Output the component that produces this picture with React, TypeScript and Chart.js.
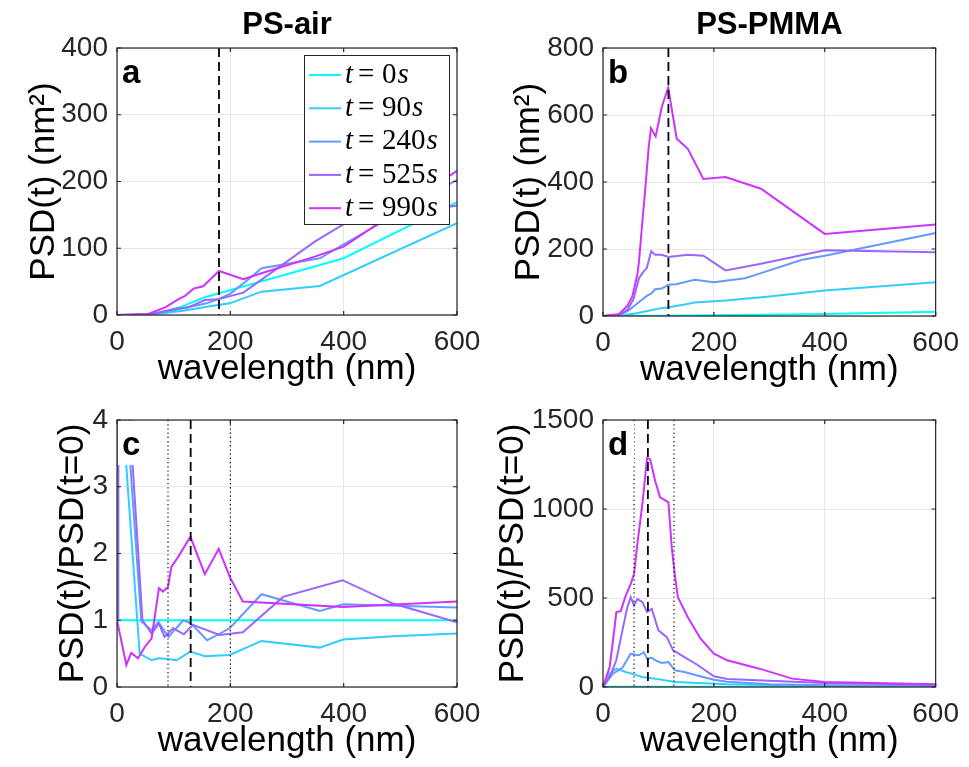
import React, { useEffect, useRef } from "react";
import { Chart, registerables } from "chart.js";

Chart.register(...registerables);

type Pt = [number, number];

// ---------- shared labels ----------
const seriesTimes = ["0", "90", "240", "525", "990"];
const seriesColors = ["#00FFFF", "#33CCFF", "#6699FF", "#9966FF", "#CC33FF"];

// ---------- panel a: PS-air, PSD(t) ----------
const airT0: Pt[] = [[0, 0], [30, 0.2], [67, 1.5], [114, 12.5], [155, 26.5], [358, 75], [400, 85], [600, 169]];
const airT90: Pt[] = [[0, 0], [60, 0.5], [117, 6.5], [158, 12.5], [199, 17.5], [255, 35], [358, 43.5], [600, 137.5]];
const airT240: Pt[] = [[0, 0], [60, 1], [100, 7], [158, 17.5], [182, 25], [200, 32], [230, 52], [255, 70], [358, 85], [400, 106], [600, 202.5]];
const airT525: Pt[] = [[0, 0], [55, 0.5], [102, 9], [126, 11.5], [155, 22.5], [179, 23.5], [196, 27.5], [223, 33.5], [349, 110], [400, 136], [600, 164]];
const airT990: Pt[] = [[0, 0], [55, 1.5], [85, 11.5], [108, 23.5], [120, 28.5], [135, 39.5], [152, 43], [180, 66], [223, 53.5], [255, 62.5], [349, 87.5], [400, 102.5], [600, 216]];

// ---------- panel b: PS-PMMA, PSD(t) ----------
const pmmaT0: Pt[] = [[0, 0], [100, 0.5], [200, 2], [400, 6], [600, 13]];
const pmmaT90: Pt[] = [[0, 0], [20, 0.5], [40, 3], [60, 8], [80, 15], [100, 22], [118, 26], [150, 35], [165, 40], [221, 46], [300, 58], [400, 76], [600, 101]];
const pmmaT240: Pt[] = [[0, 0], [30, 3], [45, 15], [60, 35], [79, 60], [88, 68], [94, 80], [106, 82], [118, 93], [132, 95], [165, 108], [200, 101], [256, 113], [285, 128], [359, 168], [400, 180], [600, 248]];
const pmmaT525: Pt[] = [[0, 0], [30, 3], [45, 20], [55, 50], [65, 113], [72, 130], [79, 143], [87, 193], [94, 183], [106, 183], [118, 176], [153, 183], [181, 180], [221, 136], [285, 156], [400, 196], [600, 190]];
const pmmaT990: Pt[] = [[0, 0], [29, 6], [44, 30], [53, 59], [62, 124], [65, 164], [70.6, 274], [76.5, 384], [82.4, 504], [86.5, 561], [95, 536], [106, 624], [117.6, 682], [133, 529], [153, 499], [181, 409], [221, 415], [285, 380], [400, 245], [600, 273]];

// ---------- panel c: PS-air, PSD(t)/PSD(t=0) ----------
const airRatioT0: Pt[] = [[0, 1], [600, 1]];
const airRatioT90: Pt[] = [[2, 1], [4, 80], [14, 3.6], [40, 0.5], [61, 0.4], [74, 0.43], [90, 0.42], [105, 0.4], [129.5, 0.53], [155, 0.46], [199, 0.48], [255, 0.69], [358, 0.59], [399, 0.71], [487, 0.76], [600, 0.8]];
const airRatioT240: Pt[] = [[2, 1], [4, 80], [22, 3.5], [43, 0.98], [61, 0.85], [73, 0.97], [91, 0.75], [117, 1.0], [131, 0.95], [159, 0.7], [199, 0.88], [255, 1.39], [358, 1.14], [399, 1.24], [600, 1.19]];
const airRatioT525: Pt[] = [[2, 1], [5, 80], [27, 3.4], [45, 1.0], [61, 0.8], [74, 0.95], [84, 0.75], [99, 0.88], [118, 0.79], [134, 0.93], [181, 0.78], [222, 0.82], [293, 1.35], [398, 1.6], [487, 1.25], [600, 0.97]];
const airRatioT990: Pt[] = [[0, 1], [16.5, 0.33], [25, 0.51], [37, 0.43], [49, 0.6], [61, 0.73], [74, 1.48], [81, 1.43], [90, 1.5], [96, 1.8], [108, 1.95], [129.5, 2.25], [155, 1.69], [179.5, 2.07], [199, 1.65], [222, 1.28], [399, 1.2], [600, 1.28]];

// ---------- panel d: PS-PMMA, PSD(t)/PSD(t=0) ----------
const pmmaRatioT0: Pt[] = [[0, 1], [600, 1]];
const pmmaRatioT90: Pt[] = [[0, 1], [12, 75], [24, 103], [41, 84], [56, 71], [71, 56], [94, 47], [130, 28], [170, 22], [224, 15], [400, 6], [600, 4]];
const pmmaRatioT240: Pt[] = [[0, 1], [18, 75], [35, 108], [50, 187], [59, 181], [65, 178], [73.5, 196], [79.5, 159], [88, 164], [97, 146], [106, 135], [118, 140], [130, 93], [147, 84], [170, 65], [200, 41], [224, 30], [300, 15], [400, 10], [600, 7]];
const pmmaRatioT525: Pt[] = [[0, 1], [12, 56], [24, 150], [35, 318], [44, 449], [50, 505], [56, 458], [62, 495], [71, 477], [79.5, 421], [88, 439], [100, 318], [115, 280], [126.5, 206], [147, 168], [170, 125], [200, 60], [224, 45], [300, 35], [400, 22], [600, 12]];
const pmmaRatioT990: Pt[] = [[0, 1], [12, 112], [21, 336], [24, 421], [32, 426], [41, 514], [50, 579], [56, 635], [62, 804], [71, 1028], [79.5, 1286], [85, 1280], [94, 1159], [103, 1065], [112, 1050], [118, 1037], [124, 785], [130, 617], [135, 505], [153, 392], [176, 271], [200, 187], [224, 150], [282, 103], [341, 47], [400, 28], [600, 15]];

// ---------- axis ticks / reference lines ----------
const xTicks = [0, 200, 400, 600];
const aYTicks = [0, 100, 200, 300, 400];
const bYTicks = [0, 200, 400, 600, 800];
const cYTicks = [0, 1, 2, 3, 4];
const dYTicks = [0, 500, 1000, 1500];
const aDashed = [180];
const bDashed = [118];
const cDashed = [130];
const cDotted = [90, 200];
const dDashed = [81];
const dDotted = [56, 128];

const W = 969;
const H = 767;
const SANS = '"Liberation Sans", Arial, Helvetica, sans-serif';
const SERIF = '"Liberation Serif", "Times New Roman", serif';
const AXIS = "#262626";
const GRID = "#e6e6e6";

interface Panel {
  box: { l: number; t: number; r: number; b: number };
  series: Pt[][];
  yTicks: number[];
  dashed: number[];
  dotted: number[];
  letter: string;
  title?: string;
  ylabel: string;
  ylabelX: number;
  legend?: boolean;
}

const panels: Panel[] = [
  {
    box: { l: 117, t: 48, r: 457, b: 315 },
    series: [airT0, airT90, airT240, airT525, airT990],
    yTicks: aYTicks, dashed: aDashed, dotted: [], letter: "a", title: "PS-air",
    ylabel: "PSD(t) (nm\u00B2)", ylabelX: 54, legend: true,
  },
  {
    box: { l: 603, t: 48, r: 943, b: 316 },
    series: [pmmaT0, pmmaT90, pmmaT240, pmmaT525, pmmaT990],
    yTicks: bYTicks, dashed: bDashed, dotted: [], letter: "b", title: "PS-PMMA",
    ylabel: "PSD(t) (nm\u00B2)", ylabelX: 539,
  },
  {
    box: { l: 117, t: 420, r: 457, b: 687 },
    series: [airRatioT0, airRatioT90, airRatioT240, airRatioT525, airRatioT990],
    yTicks: cYTicks, dashed: cDashed, dotted: cDotted, letter: "c",
    ylabel: "PSD(t)/PSD(t=0)", ylabelX: 83,
  },
  {
    box: { l: 603, t: 420, r: 943, b: 687 },
    series: [pmmaRatioT0, pmmaRatioT90, pmmaRatioT240, pmmaRatioT525, pmmaRatioT990],
    yTicks: dYTicks, dashed: dDashed, dotted: dDotted, letter: "d",
    ylabel: "PSD(t)/PSD(t=0)", ylabelX: 523,
  },
];

function makeOverlay(p: Panel) {
  return {
    id: "overlay",
    afterDatasetsDraw(chart: any) {
      const { ctx, chartArea } = chart;
      const xs = chart.scales.x;
      ctx.save();
      ctx.strokeStyle = "#000";
      ctx.lineWidth = 1.8;
      ctx.setLineDash([9, 5]);
      p.dashed.forEach((v) => {
        const x = xs.getPixelForValue(v);
        ctx.beginPath();
        ctx.moveTo(x, chartArea.top);
        ctx.lineTo(x, chartArea.bottom);
        ctx.stroke();
      });
      ctx.lineWidth = 1.2;
      ctx.setLineDash([1.2, 3]);
      p.dotted.forEach((v) => {
        const x = xs.getPixelForValue(v);
        ctx.beginPath();
        ctx.moveTo(x, chartArea.top);
        ctx.lineTo(x, chartArea.bottom);
        ctx.stroke();
      });
      ctx.restore();
    },
    afterDraw(chart: any) {
      const { ctx, chartArea } = chart;
      const { left: l, top: t, right: r, bottom: b } = chartArea;
      const xs = chart.scales.x;
      const ys = chart.scales.y;
      ctx.save();
      // panel letter with white box
      ctx.fillStyle = "#fff";
      ctx.fillRect(l + 1, t + 1, 30, 44);
      ctx.fillStyle = "#000";
      ctx.font = `bold 33px ${SANS}`;
      ctx.textAlign = "left";
      ctx.textBaseline = "alphabetic";
      ctx.fillText(p.letter, l + 5, t + 35);

      // frame and inward ticks
      ctx.strokeStyle = AXIS;
      ctx.lineWidth = 1.2;
      ctx.strokeRect(l, t, r - l, b - t);
      const tl = 4;
      ctx.beginPath();
      xTicks.forEach((v) => {
        const x = xs.getPixelForValue(v);
        ctx.moveTo(x, b); ctx.lineTo(x, b - tl);
        ctx.moveTo(x, t); ctx.lineTo(x, t + tl);
      });
      p.yTicks.forEach((v) => {
        const y = ys.getPixelForValue(v);
        ctx.moveTo(l, y); ctx.lineTo(l + tl, y);
        ctx.moveTo(r, y); ctx.lineTo(r - tl, y);
      });
      ctx.stroke();

      // titles and axis labels
      ctx.fillStyle = "#000";
      ctx.textAlign = "center";
      const cx = (l + r) / 2;
      if (p.title) {
        ctx.textBaseline = "middle";
        ctx.font = `bold 31px ${SANS}`;
        ctx.fillText(p.title, cx, 25);
      }
      ctx.textBaseline = "alphabetic";
      ctx.font = `35px ${SANS}`;
      ctx.fillText("wavelength (nm)", cx, b + 64);
      ctx.save();
      ctx.translate(p.ylabelX, (t + b) / 2);
      ctx.rotate(-Math.PI / 2);
      ctx.fillText(p.ylabel, 0, 0);
      ctx.restore();

      // legend
      if (p.legend) {
        const lx = 304.5, ly = 55.5, lw = 145, lh = 169;
        ctx.fillStyle = "#fff";
        ctx.fillRect(lx, ly, lw, lh);
        ctx.strokeStyle = AXIS;
        ctx.lineWidth = 1;
        ctx.strokeRect(lx, ly, lw, lh);
        seriesTimes.forEach((tm, i) => {
          const y = 75 + i * 33.3;
          ctx.strokeStyle = seriesColors[i];
          ctx.lineWidth = 2;
          ctx.beginPath();
          ctx.moveTo(309, y);
          ctx.lineTo(341, y);
          ctx.stroke();
          ctx.fillStyle = "#000";
          ctx.textAlign = "left";
          ctx.textBaseline = "middle";
          ctx.font = `italic 29px ${SERIF}`;
          ctx.fillText("t", 345, y);
          ctx.font = `29px ${SERIF}`;
          ctx.fillText("=", 358, y);
          ctx.fillText(tm, 382, y);
          const w = ctx.measureText(tm).width;
          ctx.font = `italic 29px ${SERIF}`;
          ctx.fillText("s", 383 + w, y);
        });
      }
      ctx.restore();
    },
  };
}

function PanelChart({ p }: { p: Panel }) {
  const ref = useRef<HTMLCanvasElement>(null);
  useEffect(() => {
    if (!ref.current) return;
    const yMin = p.yTicks[0];
    const yMax = p.yTicks[p.yTicks.length - 1];
    const step = p.yTicks[1] - p.yTicks[0];
    const tickFont = { family: SANS, size: 28 };
    const chart = new Chart(ref.current, {
      type: "line",
      data: {
        datasets: p.series
          .map((s, i) => ({
            data: s.map(([x, y]) => ({ x, y })),
            borderColor: seriesColors[i],
            borderWidth: 2,
            pointRadius: 0,
            fill: false,
            tension: 0,
            clip: 0,
          }))
          .reverse(),
      },
      options: {
        animation: false,
        responsive: false,
        devicePixelRatio: 1,
        events: [],
        layout: { padding: { left: 0, top: p.box.t, right: W - p.box.r, bottom: 0 } },
        plugins: { legend: { display: false }, tooltip: { enabled: false }, title: { display: false } },
        scales: {
          x: {
            type: "linear",
            min: 0,
            max: 600,
            afterFit: (s: any) => { s.height = H - p.box.b; },
            ticks: { stepSize: 200, font: tickFont, color: AXIS, padding: 10, maxRotation: 0, autoSkip: false, callback: (v: any) => String(v) },
            grid: { color: GRID, drawTicks: false, lineWidth: 1 },
            border: { display: false },
          },
          y: {
            type: "linear",
            min: yMin,
            max: yMax,
            afterFit: (s: any) => { s.width = p.box.l; },
            ticks: { stepSize: step, font: tickFont, color: AXIS, padding: 9, autoSkip: false, callback: (v: any) => String(v) },
            grid: { color: GRID, drawTicks: false, lineWidth: 1 },
            border: { display: false },
          },
        },
      } as any,
      plugins: [makeOverlay(p)],
    });
    return () => chart.destroy();
  }, [p]);
  return (
    <canvas
      ref={ref}
      width={W}
      height={H}
      style={{ position: "absolute", left: 0, top: 0, width: W, height: H }}
    />
  );
}

export default function App() {
  return (
    <div style={{ position: "absolute", left: 0, top: 0, width: W, height: H, background: "#fff", overflow: "hidden" }}>
      {panels.map((p, i) => (
        <PanelChart key={i} p={p} />
      ))}
    </div>
  );
}
